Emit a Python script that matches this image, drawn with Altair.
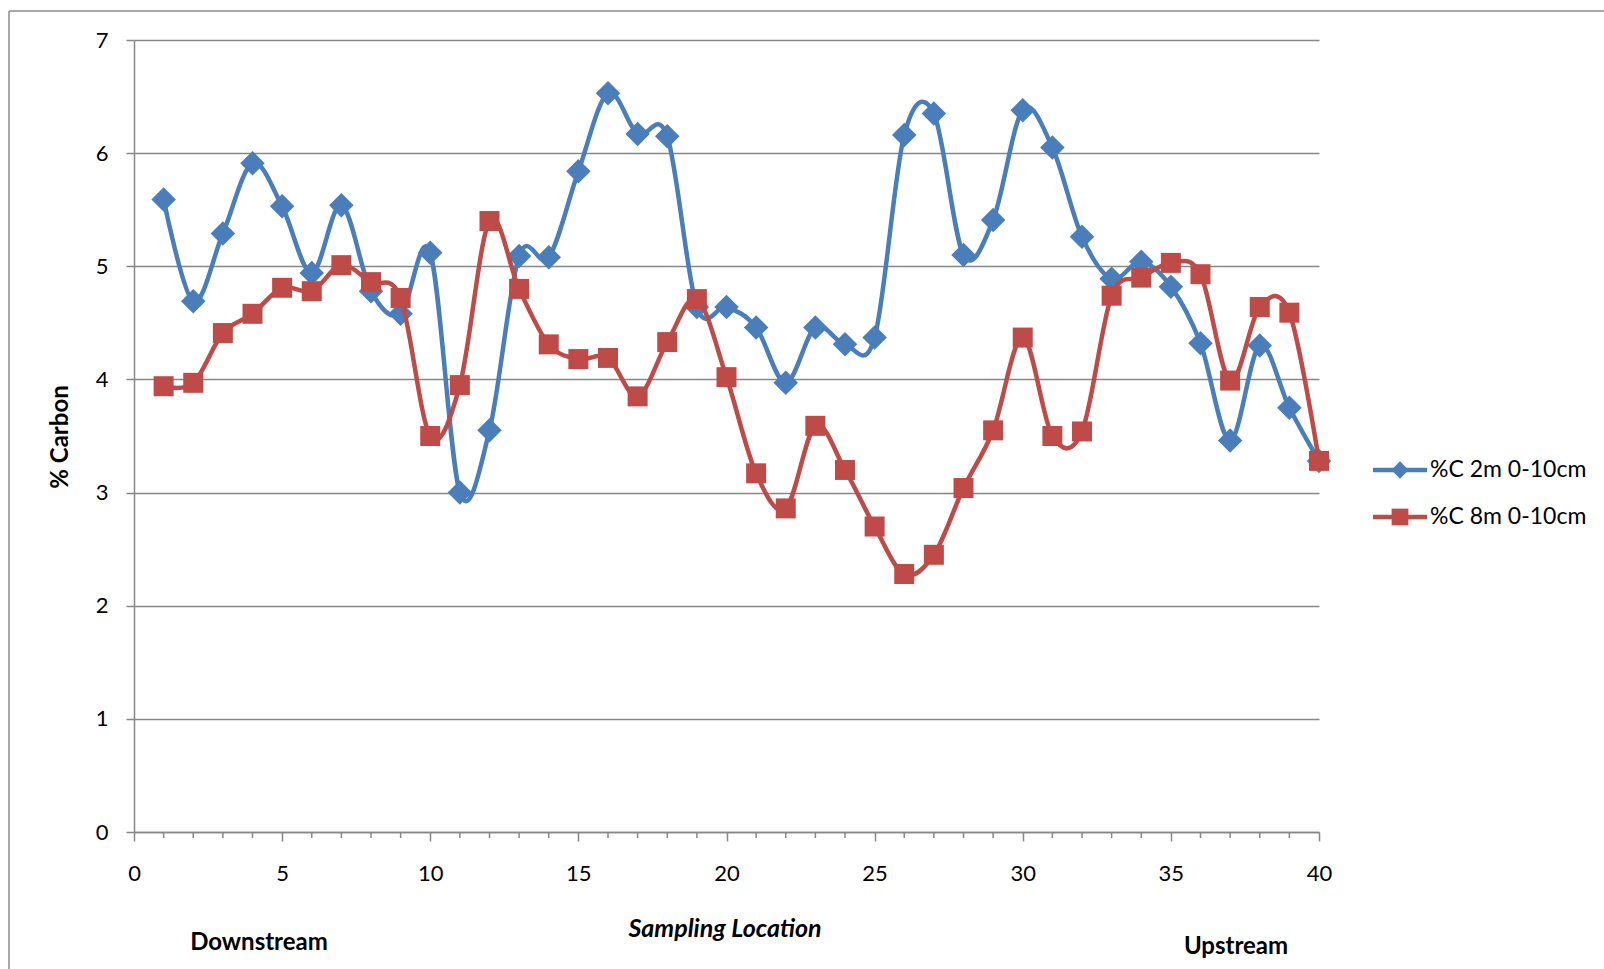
import altair as alt
import pandas as pd

# ---- data ----
locations = list(range(1, 41))
c2m = [5.59, 4.69, 5.29, 5.91, 5.53, 4.94, 5.54, 4.78, 4.58, 5.12,
       3.00, 3.55, 5.09, 5.08, 5.84, 6.53, 6.17, 6.15, 4.64, 4.64,
       4.46, 3.97, 4.46, 4.31, 4.37, 6.16, 6.35, 5.10, 5.41, 6.38,
       6.05, 5.26, 4.89, 5.04, 4.82, 4.32, 3.46, 4.30, 3.75, 3.28]
c8m = [3.94, 3.97, 4.41, 4.58, 4.81, 4.78, 5.01, 4.86, 4.72, 3.50,
       3.95, 5.40, 4.80, 4.31, 4.18, 4.19, 3.85, 4.33, 4.71, 4.02,
       3.17, 2.86, 3.59, 3.20, 2.70, 2.28, 2.45, 3.04, 3.55, 4.37,
       3.50, 3.54, 4.74, 4.90, 5.03, 4.93, 3.99, 4.64, 4.59, 3.28]
series_names = ["%C 2m 0-10cm", "%C 8m 0-10cm"]
x_ticks = [0, 5, 10, 15, 20, 25, 30, 35, 40]
minor_ticks = [i for i in range(1, 40) if i % 5 != 0]
y_ticks = [0, 1, 2, 3, 4, 5, 6, 7]

BLUE = "#4A7EBB"
RED = "#BE4B48"
GRAY = "#878787"
FONT = "Lato"
W, H = 1185, 792

df2 = pd.DataFrame({"loc": locations, "val": c2m})
df8 = pd.DataFrame({"loc": locations, "val": c8m})

xs = alt.Scale(domain=[0, 40], nice=False, zero=False)
ys = alt.Scale(domain=[0, 7], nice=False)

x_axis = alt.Axis(values=x_ticks, title=None, grid=False, tickSize=9, labelFlush=False)
y_axis = alt.Axis(values=y_ticks, title=None, grid=True, tickSize=8, labelFlush=False)

x_enc = alt.X("loc:Q", scale=xs, axis=x_axis)
y_enc = alt.Y("val:Q", scale=ys, axis=y_axis)


def series_layers(df, color, shape, size):
    line = alt.Chart(df).mark_line(
        interpolate="cardinal", tension=0, strokeWidth=4.5, color=color
    ).encode(x=x_enc, y=y_enc)
    pts = alt.Chart(df).mark_point(
        shape=shape, filled=True, size=size, color=color, opacity=1, strokeWidth=0
    ).encode(x=x_enc, y=y_enc)
    return [line, pts]


minor = alt.Chart(pd.DataFrame({"loc": minor_ticks})).mark_rule(
    color=GRAY, strokeWidth=1.5
).encode(x=x_enc, y=alt.value(H), y2=alt.value(H + 6))

one = pd.DataFrame({"a": [0]})


def txt(s, x, y, size=20, weight="normal", style="normal", angle=0, align="center"):
    return alt.Chart(one).mark_text(
        font=FONT, fontSize=size, fontWeight=weight, fontStyle=style,
        angle=angle, align=align, baseline="middle", color="black"
    ).encode(x=alt.value(x), y=alt.value(y), text=alt.value(s))


def rule(x, x2, y, y2, color, width):
    return alt.Chart(one).mark_rule(color=color, strokeWidth=width).encode(
        x=alt.value(x), x2=alt.value(x2), y=alt.value(y), y2=alt.value(y2)
    )


def legend_point(x, y, shape, size, color):
    return alt.Chart(one).mark_point(
        shape=shape, filled=True, size=size, color=color, opacity=1, strokeWidth=0
    ).encode(x=alt.value(x), y=alt.value(y))


layers = []
layers += series_layers(df2, BLUE, "diamond", 600)
layers += series_layers(df8, RED, "square", 400)
layers.append(minor)

# legend
layers += [
    rule(1239, 1293, 430, 430, BLUE, 4.5),
    legend_point(1266, 430, "diamond", 300, BLUE),
    txt(series_names[0], 1296, 430, size=23, align="left"),
    rule(1239, 1293, 477, 477, RED, 4.5),
    legend_point(1266, 477, "square", 280, RED),
    txt(series_names[1], 1296, 477, size=23, align="left"),
]

# titles / annotations
layers += [
    txt("% Carbon", -73, 397, size=24, weight="bold", angle=270),
    txt("Sampling Location", 591, 889, size=25, weight="bold", style="italic"),
    txt("Downstream", 125, 903, size=24, weight="bold"),
    txt("Upstream", 1102, 907, size=24, weight="bold"),
]

# outer chart-area border
layers += [
    rule(-125, 1480, -29, -29, "#8c8c8c", 1.5),
    rule(-125, -125, -29, 940, "#8c8c8c", 1.5),
]

chart = alt.layer(*layers).properties(
    width=W, height=H,
    autosize=alt.AutoSizeParams(type="none"),
    padding={"left": 134, "top": 40, "right": 285, "bottom": 137},
    background="white",
).configure_view(stroke=None).configure_axis(
    domainColor=GRAY, domainWidth=1.5, tickColor=GRAY, tickWidth=1.5,
    gridColor=GRAY, gridWidth=1.5, labelFont=FONT, labelFontSize=22,
    labelColor="black",
).configure_axisX(labelPadding=22).configure_axisY(labelPadding=18)

chart.save("out.html", embed_options={"renderer": "svg", "actions": False})
